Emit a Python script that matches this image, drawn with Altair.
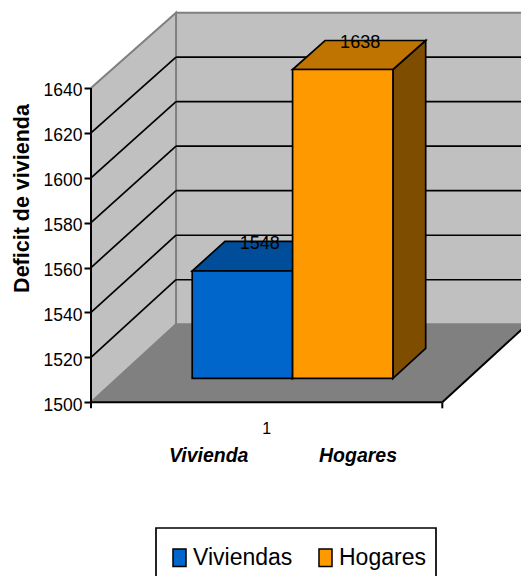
import altair as alt
import pandas as pd

# Series and axis content
series = ["Viviendas", "Hogares"]
values = [1548, 1638]
front_colors = ["#0066CC", "#FF9900"]
top_colors = ["#004D99", "#BF7300"]
side_colors = ["#003366", "#7F4D00"]
value_ticks = [1500, 1520, 1540, 1560, 1580, 1600, 1620, 1640]
grid_values = [1520, 1540, 1560, 1580, 1600, 1620]
category_labels = ["Vivienda", "Hogares"]
category_positions = [0.335, 0.76]
bar_edges = [0.2143, 0.5, 0.7857]

# Oblique projection: depth 0 is the front plane, depth 1 the back wall
BASE = 1500
TOP = 1640
DEPTH_X = 0.242
DEPTH_Y = 34.75
SHRINK = 0.0085
BAR_NEAR = 0.305
BAR_FAR = 0.69
PLOT_W = 430
PLOT_H = 576
X_MAX = 1.224
Y_DOMAIN = [1422.6, 1679.2]
TICK_DROP = 2.7
FONT = "Liberation Sans"


def px(u, d=0.0):
    return u + d * DEPTH_X


def py(v, d=0.0):
    return BASE + (v - BASE) * (1 - SHRINK * d) + d * DEPTH_Y


x_scale = alt.Scale(domain=[0, X_MAX], nice=False, zero=False)
y_scale = alt.Scale(domain=Y_DOMAIN, nice=False, zero=False)

# Value axis with its ticks, labels and title; every layer shares it
y_axis = alt.Axis(
    values=value_ticks,
    format="d",
    domain=False,
    grid=False,
    ticks=True,
    tickSize=7,
    tickWidth=2,
    tickColor="black",
    labelFont=FONT,
    labelFontSize=17.5,
    labelColor="black",
    labelPadding=2,
    labelOffset=3,
    title="Deficit de vivienda",
    titleFont=FONT,
    titleFontSize=21.5,
    titleFontWeight="bold",
    titleColor="black",
    titleX=-58,
    titleY=198,
)


def column_face(rows, **mark):
    """Parallelogram with vertical parallel edges."""
    return alt.Chart(pd.DataFrame(rows)).mark_area(**mark).encode(
        x=alt.X("x:Q", scale=x_scale, axis=None),
        y=alt.Y("y:Q", scale=y_scale, axis=y_axis, stack=None),
        y2="y2:Q",
        detail="face:N",
        fill=alt.Fill("fill:N", scale=None, legend=None),
    )


def row_face(rows, **mark):
    """Parallelogram with horizontal parallel edges."""
    return alt.Chart(pd.DataFrame(rows)).mark_area(orient="horizontal", **mark).encode(
        y=alt.Y("y:Q", scale=y_scale, axis=y_axis),
        x=alt.X("x:Q", scale=x_scale, axis=None, stack=None),
        x2="x2:Q",
        detail="face:N",
        fill=alt.Fill("fill:N", scale=None, legend=None),
    )


def segments(rows, color, width):
    return alt.Chart(pd.DataFrame(rows)).mark_rule(color=color, strokeWidth=width).encode(
        x=alt.X("x:Q", scale=x_scale, axis=None),
        x2="x2:Q",
        y=alt.Y("y:Q", scale=y_scale, axis=y_axis),
        y2="y2:Q",
    )


def text_layer(rows, **mark):
    return alt.Chart(pd.DataFrame(rows)).mark_text(font=FONT, color="black", **mark).encode(
        x=alt.X("x:Q", scale=x_scale, axis=None),
        y=alt.Y("y:Q", scale=y_scale, axis=y_axis),
        text="t:N",
    )


# Room walls and floor
back_wall = column_face(
    [
        {"face": "back", "fill": "#C0C0C0", "x": px(0, 1), "y": py(BASE, 1), "y2": py(TOP, 1)},
        {"face": "back", "fill": "#C0C0C0", "x": px(1, 1), "y": py(BASE, 1), "y2": py(TOP, 1)},
    ],
    stroke="#808080",
    strokeWidth=2,
)
left_wall = column_face(
    [
        {"face": "left", "fill": "#C0C0C0", "x": px(0, 0), "y": py(BASE, 0), "y2": py(TOP, 0)},
        {"face": "left", "fill": "#C0C0C0", "x": px(0, 1), "y": py(BASE, 1), "y2": py(TOP, 1)},
    ],
    stroke="#808080",
    strokeWidth=2,
)
floor = row_face(
    [
        {"face": "floor", "fill": "#808080", "y": py(BASE, 0), "x": px(0, 0), "x2": px(1, 0)},
        {"face": "floor", "fill": "#808080", "y": py(BASE, 1), "x": px(0, 1), "x2": px(1, 1)},
    ]
)

# Gridlines run along the left wall and across the back wall
grid_rows = []
for v in grid_values:
    grid_rows.append({"x": px(0, 0), "x2": px(0, 1), "y": py(v, 0), "y2": py(v, 1)})
    grid_rows.append({"x": px(0, 1), "x2": px(1, 1), "y": py(v, 1), "y2": py(v, 1)})
grid = segments(grid_rows, "black", 1.7)

# The room's black front frame with the two category-axis ticks
frame = segments(
    [
        {"x": px(0, 0), "x2": px(0, 0), "y": py(BASE, 0) - TICK_DROP, "y2": py(TOP, 0)},
        {"x": px(0, 0), "x2": px(1, 0), "y": py(BASE, 0), "y2": py(BASE, 0)},
        {"x": px(1, 0), "x2": px(1, 0), "y": py(BASE, 0) - TICK_DROP, "y2": py(BASE, 0)},
        {"x": px(1, 0), "x2": px(1, 1), "y": py(BASE, 0), "y2": py(BASE, 1)},
    ],
    "black",
    2,
)

# Bar faces
top_rows, side_rows, front_rows, label_rows = [], [], [], []
for i, (name, val) in enumerate(zip(series, values)):
    left, right = bar_edges[i], bar_edges[i + 1]
    top_rows += [
        {"face": name, "fill": top_colors[i], "y": py(val, BAR_NEAR), "x": px(left, BAR_NEAR), "x2": px(right, BAR_NEAR)},
        {"face": name, "fill": top_colors[i], "y": py(val, BAR_FAR), "x": px(left, BAR_FAR), "x2": px(right, BAR_FAR)},
    ]
    side_rows += [
        {"face": name, "fill": side_colors[i], "x": px(right, BAR_NEAR), "y": py(BASE, BAR_NEAR), "y2": py(val, BAR_NEAR)},
        {"face": name, "fill": side_colors[i], "x": px(right, BAR_FAR), "y": py(BASE, BAR_FAR), "y2": py(val, BAR_FAR)},
    ]
    front_rows.append(
        {"series": name, "x": px(left, BAR_NEAR), "x2": px(right, BAR_NEAR), "y": py(BASE, BAR_NEAR), "y2": py(val, BAR_NEAR)}
    )
    label_rows.append(
        {"x": px((left + right) / 2, (BAR_NEAR + BAR_FAR) / 2), "y": py(val, BAR_FAR), "t": str(val)}
    )

bar_sides = column_face(side_rows, stroke="black", strokeWidth=1.7)
bar_tops = row_face(top_rows, stroke="black", strokeWidth=1.7)

legend = alt.Legend(
    title=None,
    orient="none",
    legendX=77,
    legendY=546,
    direction="horizontal",
    padding=0,
    labelFont=FONT,
    labelFontSize=23,
    labelColor="black",
    labelOffset=2,
    columnPadding=21,
    symbolType="M-0.74,-1H0.74V1H-0.74Z",
    symbolSize=310,
    symbolStrokeColor="black",
    symbolStrokeWidth=1.5,
    symbolOpacity=1,
)

# Outline behind the legend; it runs past the lower edge of the page
legend_box = alt.Chart(pd.DataFrame({"box": [0]})).mark_rect(
    fill="white", stroke="black", strokeWidth=1.7
).encode(
    x=alt.value(65),
    x2=alt.value(345),
    y=alt.value(528),
    y2=alt.value(600),
)

bar_fronts = alt.Chart(pd.DataFrame(front_rows)).mark_rect(stroke="black", strokeWidth=1.7).encode(
    x=alt.X("x:Q", scale=x_scale, axis=None),
    x2="x2:Q",
    y=alt.Y("y:Q", scale=y_scale, axis=y_axis),
    y2="y2:Q",
    color=alt.Color("series:N", scale=alt.Scale(domain=series, range=front_colors), sort=series, legend=legend),
)

value_labels = text_layer(label_rows, fontSize=18, dx=1, dy=3)
number_label = text_layer([{"x": 0.5, "y": BASE, "t": "1"}], fontSize=16, dy=27)
captions = text_layer(
    [{"x": x, "y": BASE, "t": t} for x, t in zip(category_positions, category_labels)],
    fontSize=19.5,
    fontWeight="bold",
    fontStyle="italic",
    dy=54,
)

chart = (
    alt.layer(
        back_wall,
        left_wall,
        floor,
        grid,
        frame,
        bar_sides,
        bar_tops,
        bar_fronts,
        value_labels,
        number_label,
        captions,
        legend_box,
    )
    .properties(
        width=PLOT_W,
        height=PLOT_H,
        padding={"left": 91, "top": 0, "right": 0, "bottom": 0},
        autosize=alt.AutoSizeParams(type="none"),
        background="white",
    )
    .configure_view(stroke=None)
)

chart.save("out.html", embed_options={"renderer": "svg", "actions": False})
